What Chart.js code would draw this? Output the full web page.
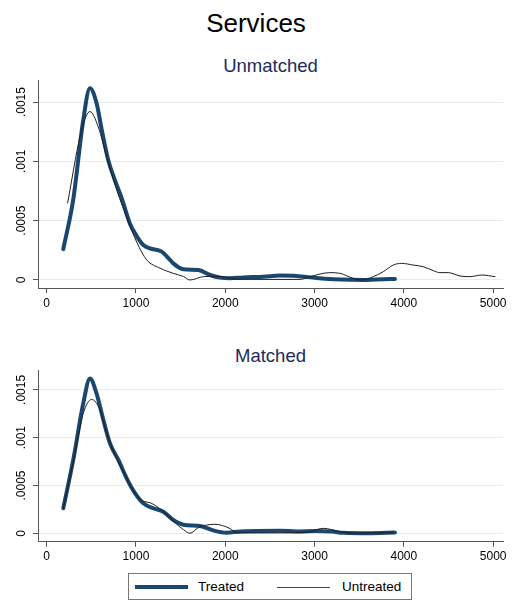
<!DOCTYPE html>
<html><head><meta charset="utf-8">
<script src="https://cdn.jsdelivr.net/npm/chart.js@4.4.1/dist/chart.umd.min.js"></script>
<style>
body{margin:0;width:512px;height:602px;background:#fff;position:relative;overflow:hidden;font-family:"Liberation Sans",Arial,sans-serif}
.t{position:absolute;white-space:nowrap;line-height:1}
canvas{position:absolute;left:0}
</style></head><body>
<div class="t" style="left:0;width:512px;text-align:center;top:10px;font-size:26px;color:#000">Services</div>
<div class="t" style="left:38px;width:465px;text-align:center;top:57px;font-size:18.5px;color:#1c2b5a">Unmatched</div>
<div class="t" style="left:38px;width:465px;text-align:center;top:347px;font-size:18.5px;color:#1c2b5a">Matched</div>
<canvas id="c1" width="512" height="240" style="top:70px"></canvas>
<canvas id="c2" width="512" height="210" style="top:360px"></canvas>
<div style="position:absolute;left:128px;top:573px;width:284px;height:27px;border:1px solid #777;box-sizing:border-box"></div>
<div style="position:absolute;left:135px;top:585px;width:53px;height:4px;background:#1a476f"></div>
<div class="t" style="left:198px;top:580px;font-size:13.5px;color:#000">Treated</div>
<div style="position:absolute;left:277px;top:587px;width:53px;height:1px;background:#444"></div>
<div class="t" style="left:342px;top:580px;font-size:13.5px;color:#000">Untreated</div>
<script>
// ---- data ----
const xTicks = [0, 1000, 2000, 3000, 4000, 5000];
const xTickLabels = ['0', '1000', '2000', '3000', '4000', '5000'];
const yTicks = [0, 0.0005, 0.001, 0.0015];
const yTickLabels = ['0', '.0005', '.001', '.0015'];

const unmatchedTreatedX = [186,298,410,485,559,616,690,765,840,933,1008,1082,1157,1288,1381,1418,1530,1698,1829,1941,2053,2202,2426,2613,2800,3023,3210,3400,3583,3769,3900];
const unmatchedTreatedY = [0.00026,0.00068,0.00135,0.001616,0.00149,0.00127,0.00101,0.00084,0.00069,0.000475,0.00037,0.000295,0.000267,0.000239,0.00017,0.00014,0.00009,0.000084,0.000042,0.00002,0.000015,0.000022,0.000028,0.000037,0.000034,0.000016,0.000006,0.000001,0.0,0.000006,0.000008];

const unmatchedUntreatedX = [235,373,440,485,578,672,784,896,1008,1120,1269,1418,1530,1605,1754,1941,2128,2500,2837,2948,3172,3284,3433,3527,3657,3769,3881,3975,4105,4217,4329,4404,4497,4628,4740,4871,5020];
const unmatchedUntreatedY = [0.00065,0.00121,0.00138,0.00142,0.00129,0.00104,0.00076,0.00053,0.00032,0.00017,0.0001,0.000056,0.00003,0.0,0.000028,0.000031,0.000006,0.000005,0.000005,0.000028,0.000062,0.000056,0.000014,0.0,0.000028,0.00007,0.000126,0.00014,0.000126,0.000112,0.000079,0.000062,0.000062,0.000034,0.000028,0.000042,0.000028];

const matchedTreatedX = [186,298,410,485,559,634,709,802,896,989,1082,1194,1306,1418,1530,1717,1866,2015,2165,2613,2800,3023,3200,3318,3600,3900];
const matchedTreatedY = [0.000262,0.00077,0.00136,0.00162,0.00146,0.00119,0.00094,0.00077,0.000575,0.00042,0.000314,0.000262,0.000226,0.000139,0.00009,0.000076,0.00003,0.000006,0.00002,0.000027,0.00002,0.000025,0.000018,0.000005,0.0,0.000008];

const matchedUntreatedX = [186,298,410,504,597,672,760,850,950,1040,1100,1157,1250,1340,1450,1530,1605,1700,1885,2053,2128,2500,2900,3098,3284,3400,3880];
const matchedUntreatedY = [0.00026,0.00075,0.001255,0.0014,0.00129,0.00105,0.00083,0.00066,0.00048,0.00036,0.00033,0.00032,0.00027,0.0002,0.0001,0.00004,0.0,0.00006,0.000094,0.00005,0.000006,0.000004,0.000008,0.000052,0.000017,0.000003,0.000005];

// ---- chart ----
Chart.defaults.font.family = '"Liberation Sans", Arial, sans-serif';
const pts = (xs, ys) => xs.map((x, i) => ({x, y: ys[i]}));

function makeChart(id, tX, tY, uX, uY, yMin, yMax, xH) {
  return new Chart(document.getElementById(id), {
    type: 'line',
    data: { datasets: [
      { label: 'Untreated', data: pts(uX, uY), borderColor: '#1e1e1e', borderWidth: 1, order: 0 },
      { label: 'Treated', data: pts(tX, tY), borderColor: '#1a476f', borderWidth: 4, order: 1 }
    ]},
    options: {
      responsive: false, animation: false, devicePixelRatio: 1,
      layout: { padding: { top: 10, right: 9, left: 0, bottom: 0 } },
      plugins: { legend: { display: false }, tooltip: { enabled: false }, title: { display: false } },
      elements: { point: { radius: 0 }, line: { cubicInterpolationMode: 'monotone', borderCapStyle: 'round', borderJoinStyle: 'round' } },
      scales: {
        x: {
          type: 'linear', min: -97, max: 5110,
          afterBuildTicks: s => { s.ticks = xTicks.map(v => ({ value: v })); },
          afterFit: s => { s.height = xH; },
          grid: { drawOnChartArea: false, tickLength: 5, tickColor: '#555' },
          border: { color: '#555', width: 1 },
          ticks: { padding: 3, color: '#000', font: { size: 12 }, maxRotation: 0, autoSkip: false,
                   callback: (v, i) => xTickLabels[i] }
        },
        y: {
          type: 'linear', min: yMin, max: yMax,
          afterBuildTicks: s => { s.ticks = yTicks.map(v => ({ value: v })); },
          afterFit: s => { s.width = 38; },
          grid: { color: '#e4ecef', tickLength: 5, tickColor: '#555' },
          border: { color: '#555', width: 1 },
          ticks: { padding: -4, color: '#000', font: { size: 12 }, minRotation: 90, maxRotation: 90,
                   crossAlign: 'center', autoSkip: false, callback: (v, i) => yTickLabels[i] }
        }
      }
    }
  });
}

makeChart('c1', unmatchedTreatedX, unmatchedTreatedY, unmatchedUntreatedX, unmatchedUntreatedY, -0.0000675, 0.001686, 22);
makeChart('c2', matchedTreatedX, matchedTreatedY, matchedUntreatedX, matchedUntreatedY, -0.0000879, 0.001708, 28.3);
</script>
</body></html>
